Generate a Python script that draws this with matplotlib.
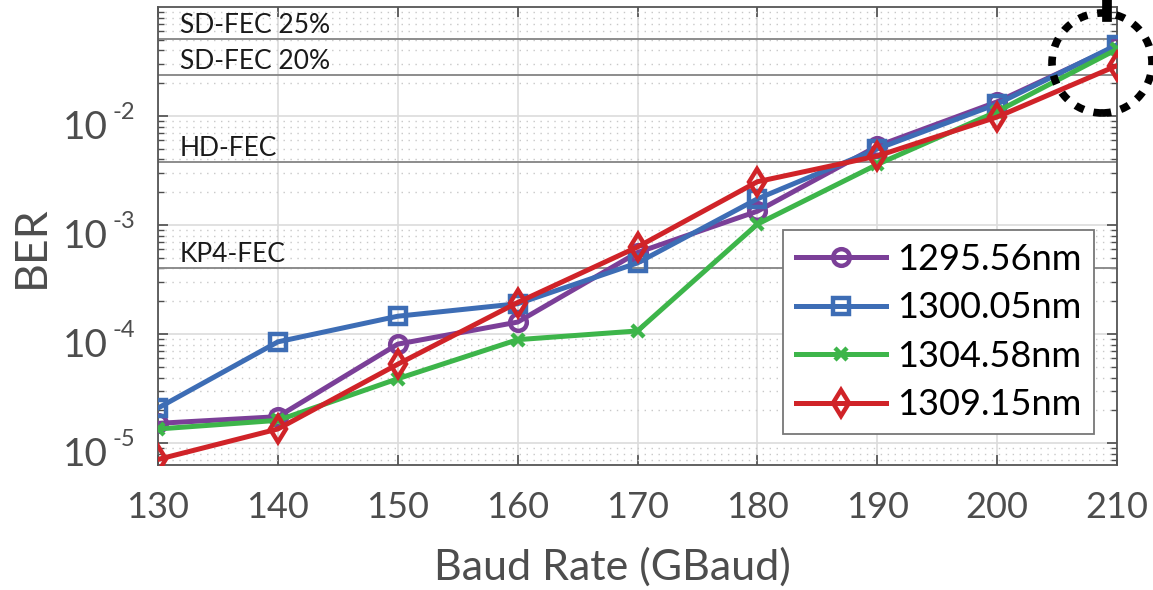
import matplotlib
matplotlib.use("Agg")
import matplotlib.pyplot as plt
from matplotlib.patches import Ellipse
from matplotlib.lines import Line2D
from matplotlib.transforms import blended_transform_factory
from matplotlib.ticker import LogLocator, NullFormatter
import numpy as np

plt.rcParams["font.family"] = ["Lato", "DejaVu Sans"]

baud = [130, 140, 150, 160, 170, 180, 190, 200, 210]
ber_129556 = [1.52e-5, 1.75e-5, 8.1e-5, 1.29e-4, 5.6e-4, 1.34e-3, 5.3e-3, 1.35e-2, 4.4e-2]
ber_130005 = [2.1e-5, 8.5e-5, 1.46e-4, 1.9e-4, 4.5e-4, 1.74e-3, 5.0e-3, 1.29e-2, 4.5e-2]
ber_130458 = [1.35e-5, 1.62e-5, 3.9e-5, 8.9e-5, 1.07e-4, 1.02e-3, 3.6e-3, 1.1e-2, 4.1e-2]
ber_130915 = [7.1e-6, 1.35e-5, 5.3e-5, 1.95e-4, 6.3e-4, 2.5e-3, 4.3e-3, 9.8e-3, 2.9e-2]
labels = ["1295.56nm", "1300.05nm", "1304.58nm", "1309.15nm"]

fec_names = ["SD-FEC 25%", "SD-FEC 20%", "HD-FEC", "KP4-FEC"]
fec_levels = [5.1e-2, 2.4e-2, 3.8e-3, 4.0e-4]

decades = [-5, -4, -3, -2]

series = [ber_129556, ber_130005, ber_130458, ber_130915]
colors = ["#7B3F98", "#3D6DB5", "#3DB54A", "#D02328"]
markers = ["o", "s", "x", "d"]
msizes = [12, 11, 8, 13]

W, H = 1153, 590
fig = plt.figure(figsize=(W / 100, H / 100), dpi=100)
ax = fig.add_axes([158 / W, 125 / H, 959 / W, 458 / H])

for lvl, name in zip(fec_levels, fec_names):
    ax.axhline(lvl, color="#8c8c8c", lw=1.4, zorder=1)
    ax.annotate(name, xy=(130, lvl), xytext=(22, 6), textcoords="offset pixels",
                fontsize=19, color="#1a1a1a", ha="left", va="baseline", zorder=2)

for y, c, m, ms, lab in zip(series, colors, markers, msizes, labels):
    ax.plot(baud, y, color=c, lw=3.6, marker=m, ms=ms, mfc="none",
            mec=c, mew=3.2, label=lab, zorder=3)

ax.set_yscale("log")
ax.set_xlim(130, 210)
ax.set_ylim(10 ** -5.2, 10 ** -1.0)
ax.set_xticks(baud)
ax.set_yticks([10.0 ** d for d in decades])
ax.set_yticklabels([])
ax.yaxis.set_minor_locator(LogLocator(base=10, subs=np.arange(2, 10)))
ax.yaxis.set_minor_formatter(NullFormatter())

# y tick labels drawn as "10" with a raised exponent
trans = blended_transform_factory(ax.transAxes, ax.transData)
for d in decades:
    ax.annotate("10", xy=(0, 10.0 ** d), xycoords=trans, xytext=(-50, -23),
                textcoords="offset pixels", ha="right", va="baseline",
                fontsize=28, color="#4d4d4d")
    ax.annotate("%d" % d, xy=(0, 10.0 ** d), xycoords=trans, xytext=(-45, -3),
                textcoords="offset pixels", ha="left", va="baseline",
                fontsize=17, color="#4d4d4d")

ax.grid(True, which="major", color="#dcdcdc", lw=1.2, zorder=0)
ax.grid(True, which="minor", axis="y", color="#c8c8c8", lw=1.0,
        linestyle=(0, (1, 4)), zorder=0)
ax.set_axisbelow(True)

ax.tick_params(which="both", direction="in", top=True, right=True,
               colors="#4d4d4d", labelcolor="#4d4d4d")
ax.tick_params(which="major", length=7, width=1.2, labelsize=26, pad=19)
ax.tick_params(which="minor", length=4, width=1.0)
for s in ax.spines.values():
    s.set_color("#555555")
    s.set_linewidth(1.3)

fig.text(612 / W, 1 - 567 / H, "Baud Rate (GBaud)", fontsize=31, color="#4d4d4d",
         ha="center", va="center")
fig.text(31 / W, 1 - 247 / H, "BER", fontsize=32, color="#4d4d4d",
         ha="center", va="center", rotation=90)

leg = ax.legend(loc="upper left", bbox_to_anchor=(783 / W, 1 - 230 / H),
                bbox_transform=fig.transFigure, fontsize=26,
                handlelength=2.5, handletextpad=0.3, borderpad=0.35,
                labelspacing=0.43, fancybox=False, framealpha=1.0,
                edgecolor="#777777", borderaxespad=0)
leg.get_frame().set_linewidth(1.3)

# dotted highlight circle around the 210 GBaud points
circ = Ellipse((1102 / W, 1 - 63 / H), 100 / W, 100 / H, transform=fig.transFigure,
               fill=False, edgecolor="black", lw=5.5, linestyle=(0, (1.2, 1.3)),
               clip_on=False)
fig.add_artist(circ)
fig.add_artist(Line2D([1107 / W, 1107 / W], [1.0, 1 - 17 / H],
                      transform=fig.transFigure, color="black", lw=7))

fig.savefig("out.png", dpi=100)
